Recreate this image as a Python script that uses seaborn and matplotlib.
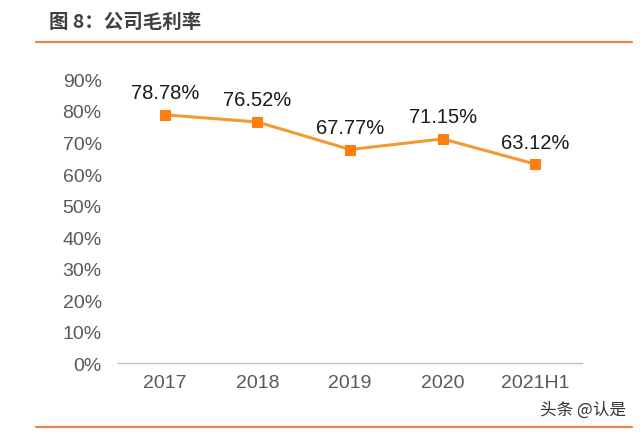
import matplotlib
matplotlib.use('Agg')
import matplotlib.pyplot as plt
import seaborn as sns
import pandas as pd

# Data
years = ['2017', '2018', '2019', '2020', '2021H1']
margin = [78.78, 76.52, 67.77, 71.15, 63.12]
y_ticks = [0, 10, 20, 30, 40, 50, 60, 70, 80, 90]

df = pd.DataFrame({'year': years, 'margin': margin})

sns.set_theme(style='white')
plt.rcParams['font.family'] = ['Liberation Sans', 'Noto Sans CJK SC', 'DejaVu Sans']

orange = '#F39A33'
fig = plt.figure(figsize=(6.4, 4.35), dpi=100)
ax = fig.add_axes([0.185, 0.163, 0.724, 0.652])

sns.lineplot(data=df, x='year', y='margin', ax=ax, color=orange, linewidth=2.2,
             marker='s', markersize=7.5, markeredgecolor='#FF7F0E',
             markerfacecolor='#FF7F0E', sort=False)

for i, v in enumerate(margin):
    ax.annotate(f'{v:.2f}%', (i, v), xytext=(0, 9), textcoords='offset points',
                ha='center', va='bottom', fontsize=14.5, color='#1a1a1a')

ax.set_xlim(-0.5, len(years) - 0.5)
ax.set_ylim(0, 90)
ax.set_yticks(y_ticks)
ax.set_yticklabels([f'{t}%' for t in y_ticks])
ax.set_xlabel('')
ax.set_ylabel('')
for s in ['top', 'right', 'left']:
    ax.spines[s].set_visible(False)
ax.spines['bottom'].set_color('#bfbfbf')
ax.spines['bottom'].set_linewidth(1)
ax.tick_params(axis='y', labelsize=14, colors='#595959', length=0, pad=12)
ax.tick_params(axis='x', labelsize=14, colors='#595959', length=0, pad=8)

# header and footer
fig.text(0.077, 0.948, '图 8：公司毛利率', fontsize=14, fontweight='bold',
         color='#404040', family=['Noto Sans CJK SC', 'DejaVu Sans'], va='center')
fig.add_artist(plt.Line2D([0.056, 0.987], [0.901, 0.901], color='#E8834A', linewidth=1.6))
fig.add_artist(plt.Line2D([0.056, 0.987], [0.016, 0.016], color='#E8834A', linewidth=1.6))
fig.text(0.978, 0.058, '头条 @认是', fontsize=12, color='#333333', ha='right',
         va='center', family=['Noto Sans CJK SC', 'DejaVu Sans'])

fig.savefig('out.png', dpi=100, facecolor='white')
